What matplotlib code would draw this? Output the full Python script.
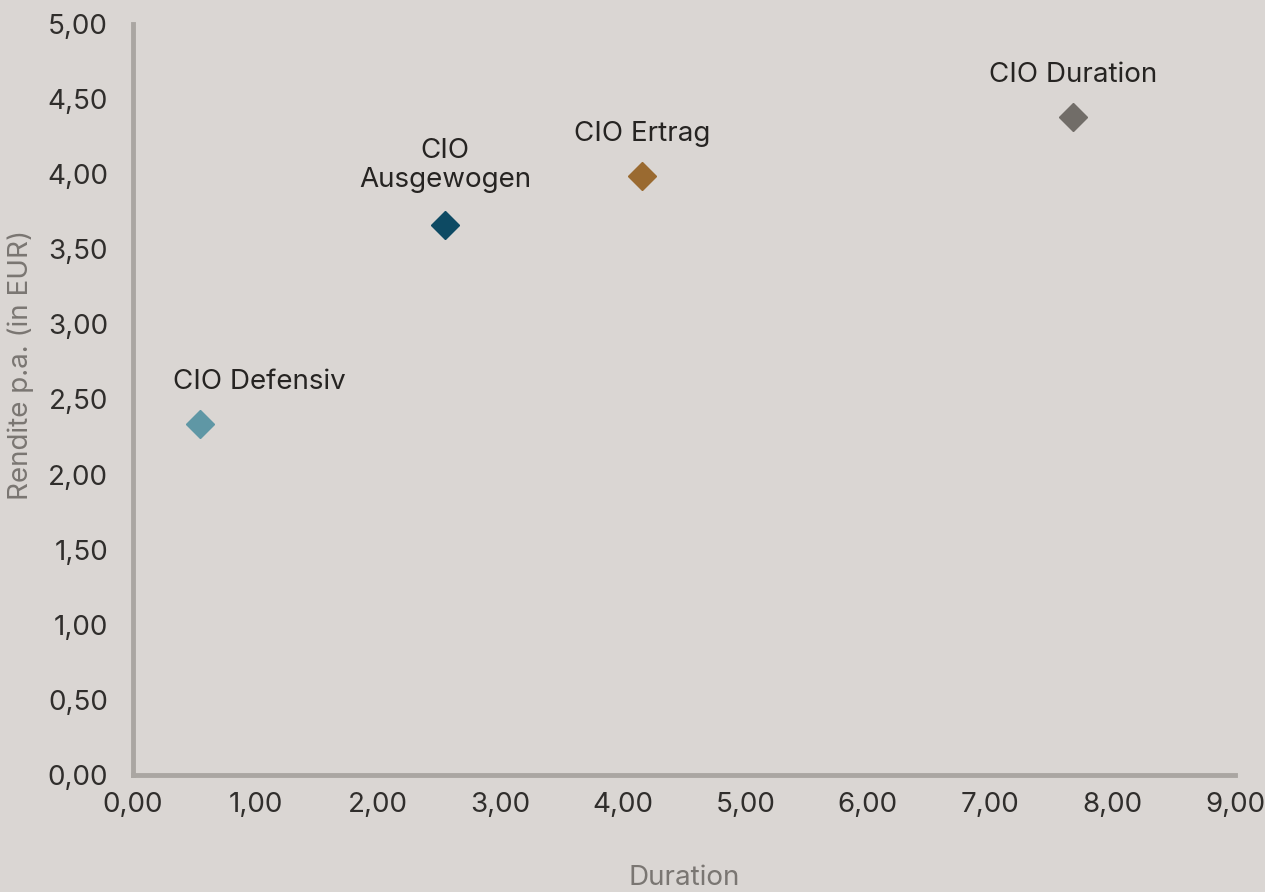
import matplotlib
matplotlib.use("Agg")
import matplotlib.pyplot as plt

# Duration vs. Rendite der CIO-Strategien
names = ["CIO Defensiv", "CIO\nAusgewogen", "CIO Ertrag", "CIO Duration"]
duration = [0.55, 2.55, 4.16, 7.68]
rendite = [2.34, 3.66, 3.99, 4.38]
colors = ["#5f97a5", "#0d4a63", "#9a6a30", "#716d68"]
x_ticks = [0, 1, 2, 3, 4, 5, 6, 7, 8, 9]
y_ticks = [0, 0.5, 1, 1.5, 2, 2.5, 3, 3.5, 4, 4.5, 5]

plt.rcParams['font.family'] = ['Inter', 'DejaVu Sans']
bg = "#dad6d3"

fig = plt.figure(figsize=(12.65, 8.92), dpi=100, facecolor=bg)
ax = fig.add_axes([133 / 1265, 1 - 775 / 892, (1235 - 133) / 1265, (775 - 24) / 892])
ax.set_facecolor(bg)

for n, x, y, c in zip(names, duration, rendite, colors):
    ax.plot(x, y, marker="D", markersize=14, color=c, linestyle="none", clip_on=False)
    dx = 59 if n == "CIO Defensiv" else 0
    dy = 42 if "\n" not in n else 60
    ax.annotate(n, (x, y), xytext=(dx, dy), textcoords="offset pixels",
                ha="center", va="center", fontsize=20, color="#262422",
                linespacing=1.15)

ax.set_xlim(0, 9)
ax.set_ylim(0, 5)
ax.set_xticks(x_ticks)
ax.set_yticks(y_ticks)
ax.set_xticklabels([f"{v:.2f}".replace(".", ",") for v in x_ticks])
ax.set_yticklabels([f"{v:.2f}".replace(".", ",") for v in y_ticks])
ax.tick_params(length=0, labelsize=20, labelcolor="#302e2c")
ax.tick_params(axis="y", pad=18)
ax.tick_params(axis="x", pad=12)

for s in ["top", "right"]:
    ax.spines[s].set_visible(False)
for s in ["left", "bottom"]:
    ax.spines[s].set_color("#aaa6a2")
    ax.spines[s].set_linewidth(3.5)

ax.set_xlabel("Duration", fontsize=20, color="#7a7672", labelpad=34)
ax.set_ylabel("Rendite p.a. (in EUR)", fontsize=20, color="#7a7672")
ax.yaxis.set_label_coords(-0.09, 0.546)

fig.savefig("out.png", dpi=100, facecolor=bg)
